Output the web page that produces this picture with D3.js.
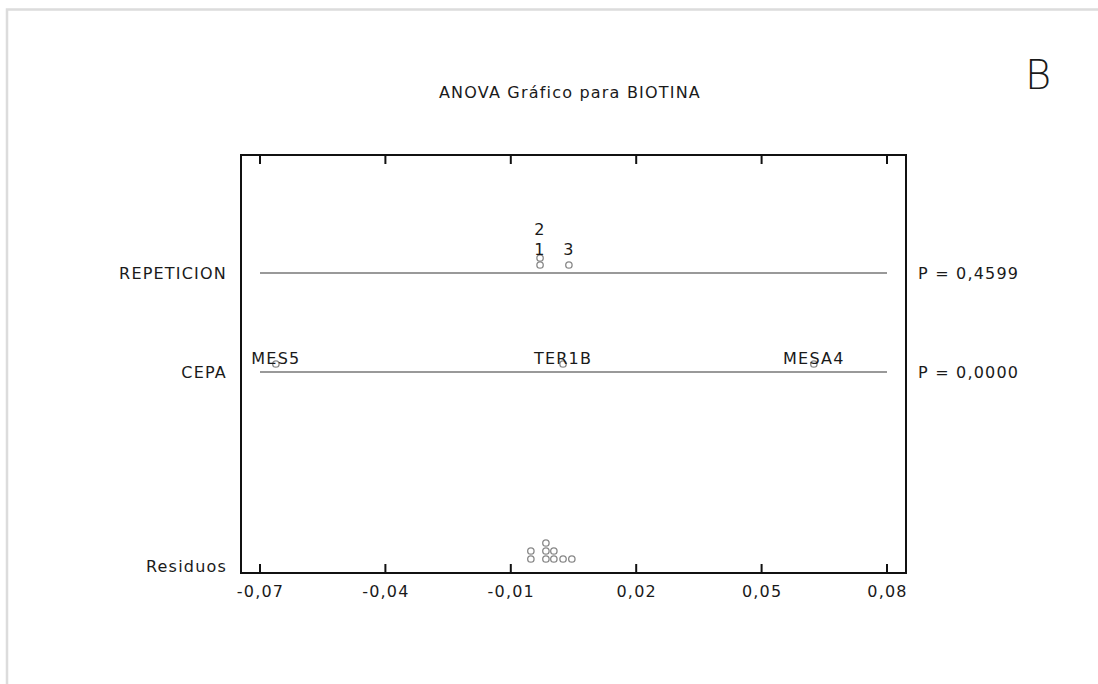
<!DOCTYPE html>
<html>
<head>
<meta charset="utf-8">
<script src="https://cdn.jsdelivr.net/npm/d3@7"></script>
<style>
  html, body { margin: 0; padding: 0; background: #fff; }
  svg { display: block; font-family: "DejaVu Sans", sans-serif; letter-spacing: 1.2px; }
</style>
</head>
<body>
<svg id="chart" width="1098" height="684"></svg>
<script>
// ---- data ----
const title = "ANOVA Gráfico para BIOTINA";
const panelLetter = "B";
const factors = ["REPETICION", "CEPA", "Residuos"];
const pValues = ["P = 0,4599", "P = 0,0000", null];
const repLevels = ["1", "2", "3"];
const repEffects = [-0.0030, -0.0030, 0.0039];
const cepaLevels = ["MES5", "TER1B", "MESA4"];
const cepaEffects = [-0.0662, 0.0025, 0.0625];
const residuals = [-0.0052, -0.0052, -0.0016, -0.0016, -0.0016, 0.0003, 0.0003, 0.0025, 0.0046];
const xTicks = [-0.07, -0.04, -0.01, 0.02, 0.05, 0.08];

// ---- layout ----
const svg = d3.select("#chart");
const FONT = '"DejaVu Sans", sans-serif';
const FS = 16;
const TXT = "#1a1a1a";
const frame = { left: 241, right: 906, top: 155, bottom: 573 };
const x = d3.scaleLinear().domain([-0.07, 0.08]).range([260, 887]);
const y = d3.scaleOrdinal().domain(factors).range([273, 372, 566]);
const fmt = v => d3.format(".2f")(v).replace(".", ",").replace("\u2212", "-");

// outer light border
svg.append("path")
  .attr("d", "M7,684 L7,9.5 L1098,9.5")
  .attr("fill", "none").attr("stroke", "#dcdcdc").attr("stroke-width", 2.5);

// title and letter
svg.append("text").attr("x", 570).attr("y", 98).attr("text-anchor", "middle")
  .attr("font-size", FS).attr("fill", TXT).text(title);
svg.append("text").attr("x", 1038).attr("y", 89).attr("text-anchor", "middle")
  .attr("font-size", 40).attr("font-weight", 200).style("letter-spacing", "0px")
  .attr("fill", TXT).text(panelLetter);

// factor lines (not for residuals)
factors.forEach((f, i) => {
  if (pValues[i] !== null) {
    svg.append("line")
      .attr("x1", x(-0.07)).attr("x2", x(0.08))
      .attr("y1", y(f)).attr("y2", y(f))
      .attr("stroke", "#777").attr("stroke-width", 1.5);
    svg.append("text").attr("x", 918).attr("y", y(f) + 6)
      .attr("font-size", FS).attr("fill", TXT).text(pValues[i]);
  }
  svg.append("text").attr("x", 227).attr("y", y(f) + 6).attr("text-anchor", "end")
    .attr("font-size", FS).attr("fill", TXT).text(f);
});

// stacked point helper
function stackPoints(vals) {
  const counts = new Map();
  return vals.map(v => {
    const key = Math.round(x(v));
    const k = counts.get(key) || 0;
    counts.set(key, k + 1);
    return { v, k };
  });
}

function drawFactor(factor, levels, effects) {
  const base = y(factor);
  const pts = stackPoints(effects);
  const maxStack = d3.max(pts, p => p.k) + 1;
  svg.append("g").selectAll("circle").data(pts).join("circle")
    .attr("cx", d => x(d.v)).attr("cy", d => base - 8 - d.k * 7)
    .attr("r", 3.2).attr("fill", "none").attr("stroke", "#888").attr("stroke-width", 1.3);
  const labelBase = base - 8 - (maxStack - 1) * 10;
  svg.append("g").selectAll("text").data(levels).join("text")
    .attr("x", (d, i) => x(effects[i]))
    .attr("y", (d, i) => labelBase - pts[i].k * 20)
    .attr("text-anchor", "middle").attr("font-size", FS).attr("fill", TXT)
    .text(d => d);
}
drawFactor("REPETICION", repLevels, repEffects);
drawFactor("CEPA", cepaLevels, cepaEffects);

// residuals
const rpts = stackPoints(residuals);
svg.append("g").selectAll("circle").data(rpts).join("circle")
  .attr("cx", d => x(d.v)).attr("cy", d => y("Residuos") - 7 - d.k * 8)
  .attr("r", 3.2).attr("fill", "none").attr("stroke", "#888").attr("stroke-width", 1.3);

// frame
svg.append("rect")
  .attr("x", frame.left).attr("y", frame.top)
  .attr("width", frame.right - frame.left).attr("height", frame.bottom - frame.top)
  .attr("fill", "none").attr("stroke", "#111").attr("stroke-width", 2);

// bottom axis
const axisB = svg.append("g").attr("transform", `translate(0,${frame.bottom})`)
  .call(d3.axisBottom(x).tickValues(xTicks).tickSize(0).tickPadding(13).tickFormat(fmt));
axisB.select(".domain").remove();
axisB.selectAll("text").attr("font-size", FS).attr("fill", TXT)
  .style("font-family", FONT);

// ticks (inward) top and bottom
svg.append("g").selectAll("line").data(xTicks).join("line")
  .attr("x1", d => x(d)).attr("x2", d => x(d))
  .attr("y1", frame.bottom).attr("y2", frame.bottom - 9)
  .attr("stroke", "#111").attr("stroke-width", 2);
svg.append("g").selectAll("line").data(xTicks).join("line")
  .attr("x1", d => x(d)).attr("x2", d => x(d))
  .attr("y1", frame.top).attr("y2", frame.top + 9)
  .attr("stroke", "#111").attr("stroke-width", 2);
</script>
</body>
</html>
